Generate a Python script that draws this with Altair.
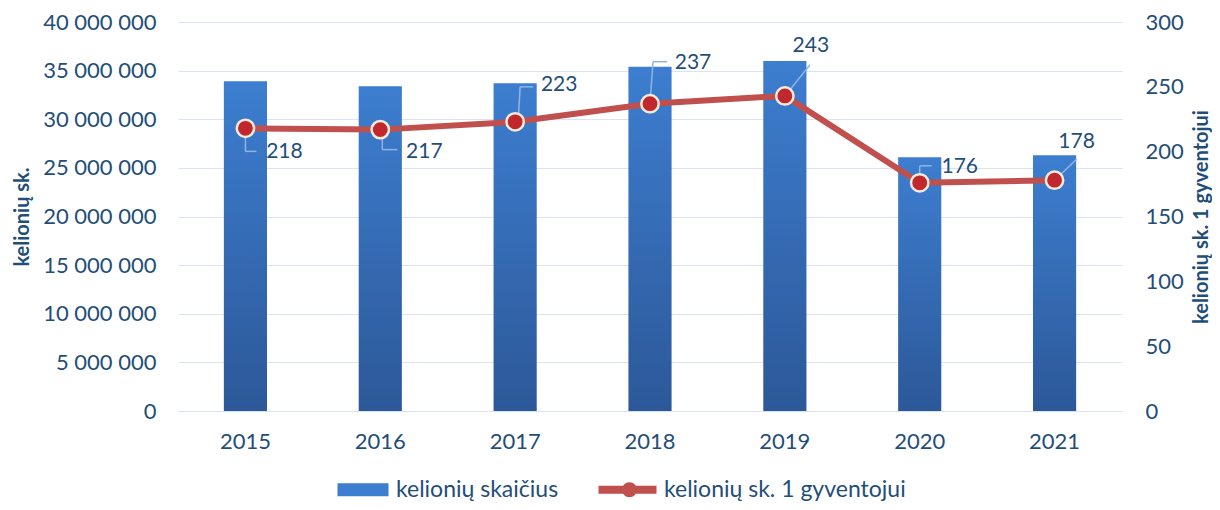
import altair as alt
import pandas as pd

years = ["2015", "2016", "2017", "2018", "2019", "2020", "2021"]
trips = [33_900_000, 33_400_000, 33_700_000, 35_400_000, 36_000_000, 26_100_000, 26_300_000]
per_capita = [218, 217, 223, 237, 243, 176, 178]
series = ["kelionių skaičius", "kelionių sk. 1 gyventojui"]
left_ticks = [0, 5_000_000, 10_000_000, 15_000_000, 20_000_000, 25_000_000, 30_000_000, 35_000_000, 40_000_000]
right_ticks = [0, 50, 100, 150, 200, 250, 300]

# annotation styling: label offsets (px from each point) and leader segments (x0, y0, x1, y1 px)
label_offsets = [(39, 24), (44, 22), (44, -37), (43, -41), (26, -50), (40, -16), (22, -38)]
leaders = [
    [(0, 0, 0, 23), (0, 23, 11, 23)],
    [(2, 0, 2, 20), (2, 20, 17, 20)],
    [(3, 0, 5, -35), (5, -35, 18, -35)],
    [(0, 0, 3, -42), (3, -42, 17, -42)],
    [(0, 0, 25, -31)],
    [(0, 0, 0, -17), (0, -17, 12, -17)],
    [(0, 0, 22, -21)],
]

FONT = "Lato"
TXT = "#1F4E79"
GRID = "#D9E3F3"
LEADER = "#8FB4E3"
BAR_TOP = "#3D7ED0"
BAR_BOT = "#2C5898"
LINE = "#C0504D"
PT_FILL = "#C0282D"
PT_STROKE = "#F3EAD9"

df = pd.DataFrame({"year": years, "trips": trips, "pc": per_capita})
leg_df = pd.DataFrame({"s": series})

xenc = alt.X(
    "year:N", sort=years,
    scale=alt.Scale(paddingInner=0.68, paddingOuter=0.34),
    axis=alt.Axis(title=None, labelAngle=0, domain=False, ticks=False, labelPadding=20),
)
yL = alt.Y(
    "trips:Q", scale=alt.Scale(domain=[0, 40_000_000]),
    axis=alt.Axis(
        title="kelionių sk.", values=left_ticks,
        labelExpr="replace(format(datum.value, ','), regexp(',', 'g'), ' ')",
        grid=True, gridColor=GRID, gridWidth=1.2, domain=False, ticks=False,
        labelPadding=22, titlePadding=10,
    ),
)
yR = alt.Y(
    "pc:Q", scale=alt.Scale(domain=[0, 300]),
    axis=alt.Axis(
        orient="right", title="kelionių sk. 1 gyventojui", values=right_ticks,
        grid=False, domain=False, ticks=False, labelPadding=23, titlePadding=28,
        titleAngle=270,
    ),
)

bars = alt.Chart(df).mark_bar(
    color=alt.Gradient(
        gradient="linear",
        stops=[alt.GradientStop(color=BAR_TOP, offset=0), alt.GradientStop(color=BAR_BOT, offset=1)],
        x1=0, x2=0, y1=0, y2=1,
    )
).encode(x=xenc, y=yL)

inner_layers = []
for yr, segs in zip(years, leaders):
    for (x0, y0, x1, y1) in segs:
        inner_layers.append(
            alt.Chart(df).transform_filter(alt.datum.year == yr).mark_rule(
                color=LEADER, strokeWidth=1.5,
                xOffset=x0, yOffset=y0, x2Offset=x1, y2Offset=y1,
            ).encode(
                x=xenc,
                x2=alt.X2("year", bandPosition=0.5),
                y=yR,
                y2=alt.Y2("pc"),
            )
        )

line = alt.Chart(df).mark_line(color=LINE, strokeWidth=6).encode(x=xenc, y=yR)
points = alt.Chart(df).mark_point(
    filled=True, fill=PT_FILL, stroke=PT_STROKE, strokeWidth=2.5, size=300, opacity=1
).encode(x=xenc, y=yR)
inner_layers = inner_layers + [line, points]

for yr, (dx, dy) in zip(years, label_offsets):
    inner_layers.append(
        alt.Chart(df).transform_filter(alt.datum.year == yr).mark_text(
            dx=dx, dy=dy, fontSize=21, font=FONT, color=TXT, align="center", baseline="middle"
        ).encode(x=xenc, y=yR, text="pc:Q")
    )

rect_path = "M-4.1,-0.65H1V0.65H-4.1Z"
line_path = ("M-4.8,-0.4H-2.35V0.4H-4.8Z M-1.05,-0.4H1V0.4H-1.05Z "
             "M-0.95,0A0.75,0.75,0,1,1,-2.45,0A0.75,0.75,0,1,1,-0.95,0Z")
leg = alt.Legend(
    title=None, orient="none", direction="horizontal", legendX=189, legendY=456,
    symbolOpacity=1, symbolStrokeWidth=0, symbolSize=400, labelOffset=6,
    columnPadding=39, labelFontSize=23, labelFont=FONT, labelColor=TXT, padding=0,
    labelLimit=600,
)
helper = alt.Chart(leg_df).mark_point(filled=True, opacity=0, size=400).encode(
    color=alt.Color("s:N", sort=series, scale=alt.Scale(domain=series, range=[BAR_TOP, LINE]), legend=leg),
    shape=alt.Shape("s:N", sort=series, scale=alt.Scale(domain=series, range=[rect_path, line_path]), legend=leg),
)
inner_layers.append(helper)

inner = alt.layer(*inner_layers)

chart = alt.layer(bars, inner).resolve_scale(y="independent").properties(
    width=944, height=389,
    autosize=alt.AutoSizeParams(type="none"),
    padding={"left": 170, "top": 14, "right": 90, "bottom": 91},
).configure_view(stroke=None).configure_axis(
    labelFont=FONT, labelFontSize=22, labelColor=TXT,
    titleFont=FONT, titleFontSize=20, titleFontWeight="bold", titleColor=TXT,
)

chart.save("out.html", embed_options={"renderer": "svg", "actions": False})
